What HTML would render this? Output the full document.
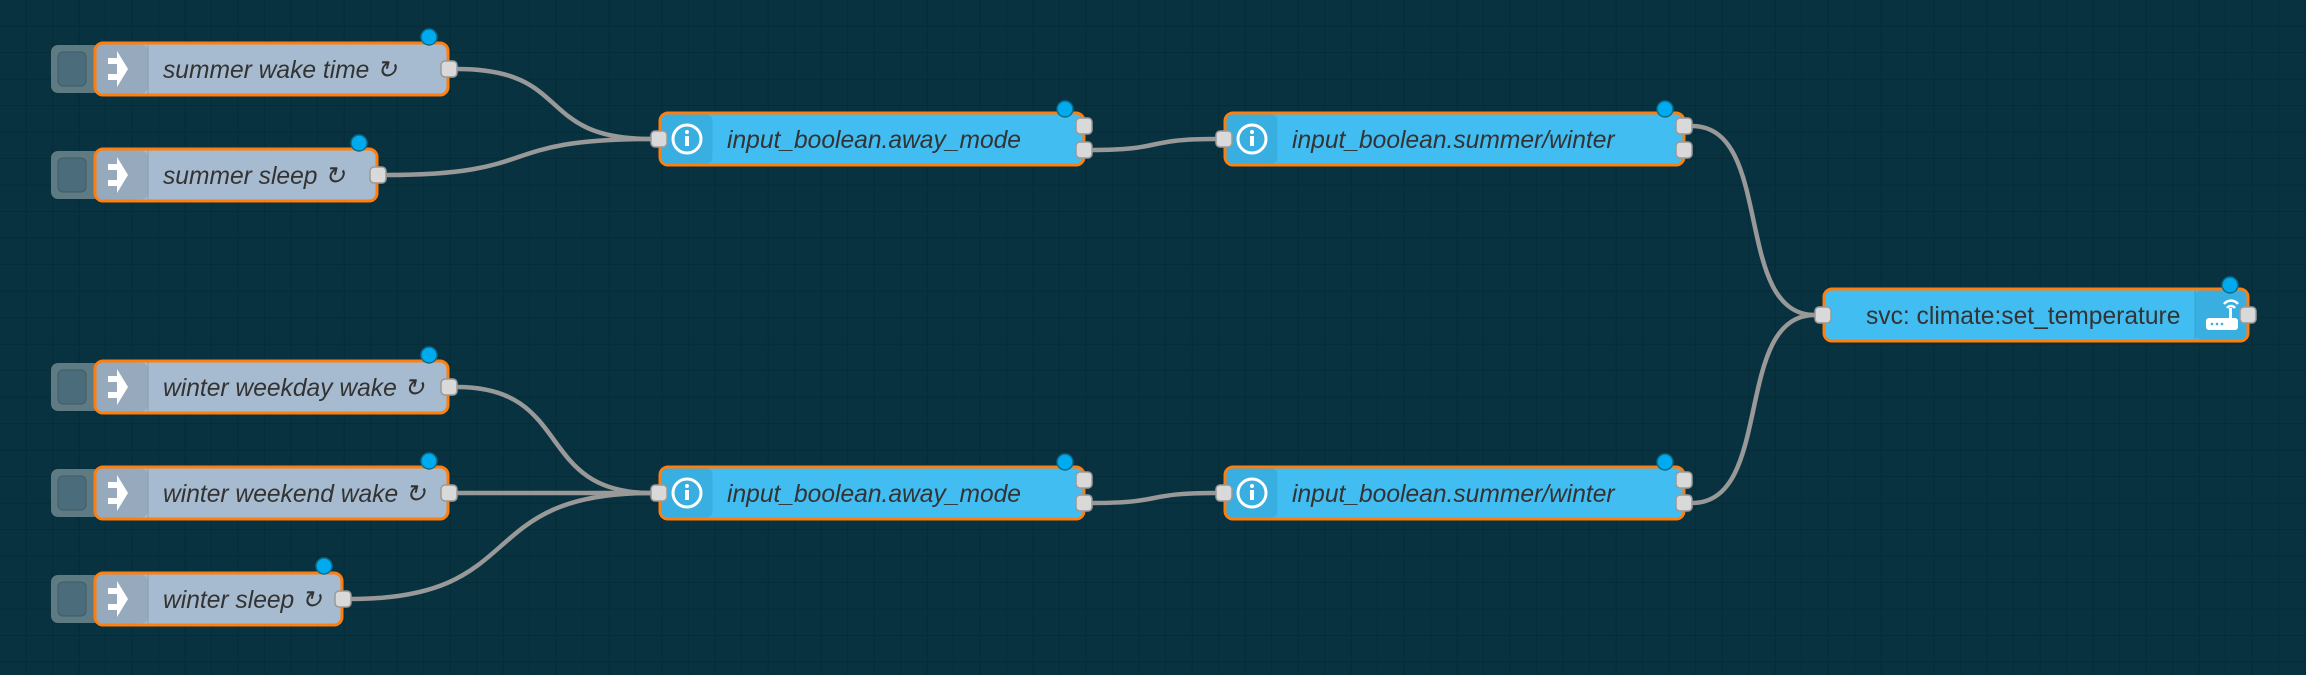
<!DOCTYPE html>
<html><head><meta charset="utf-8"><style>
html,body{margin:0;padding:0;width:2306px;height:675px;overflow:hidden;background:#08323f}
svg{display:block}
text{font-family:"Liberation Sans",sans-serif;font-size:24.6px;fill:#333}
</style></head><body>
<svg width="2306" height="675" xmlns="http://www.w3.org/2000/svg">
<defs>
<pattern id="g" width="26.5" height="26.5" patternUnits="userSpaceOnUse">
<path d="M26.5 0V26.5H0" fill="none" stroke="#052a35" stroke-width="1.5"/>
</pattern>
</defs>
<rect width="2306" height="675" fill="url(#g)"/>

<g fill="none" stroke="#999" stroke-width="4.5">
<path d="M457 69 C574 69 534 139 651 139"/>
<path d="M386 175 C545 175 492 139 651 139"/>
<path d="M457 387 C574 387 534 493 651 493"/>
<path d="M457 493 L651 493"/>
<path d="M351 599 C531 599 471 493 651 493"/>
<path d="M1092 150 C1166 150 1142 139 1216 139"/>
<path d="M1092 503 C1166 503 1142 493 1216 493"/>
<path d="M1692 126 C1775 126 1732 315 1815 315"/>
<path d="M1692 503 C1775 503 1732 315 1815 315"/>
</g>

<g>
<rect x="51" y="45" width="50" height="48" rx="7" fill="#5e7a82"/><rect x="58" y="52" width="28" height="34" rx="5" fill="#4a6c7b" stroke="#3e5c68"/>
<rect x="95" y="43" width="353" height="52" rx="8" fill="#a6bbcf" stroke="#ff7f0e" stroke-width="3"/>
<rect x="96.5" y="44.5" width="51" height="49" rx="6" fill="#97aabd"/><line x1="148" y1="44.5" x2="148" y2="93.5" stroke="#8a9cae"/>
<path d="M108 58h9v-7l11 18-11 18v-7h-9v-6h9v-10h-9z" fill="#fff"/>
<text x="163" y="78" font-style="italic">summer wake time ↻</text>
<rect x="441" y="61" width="16" height="16" rx="4" fill="#d9d9d9" stroke="#999" stroke-width="1.5"/>
<circle cx="429" cy="37" r="8" fill="#00aaee" stroke="#0a6c8c" stroke-width="1.5"/>

<rect x="51" y="151" width="50" height="48" rx="7" fill="#5e7a82"/><rect x="58" y="158" width="28" height="34" rx="5" fill="#4a6c7b" stroke="#3e5c68"/>
<rect x="95" y="149" width="282" height="52" rx="8" fill="#a6bbcf" stroke="#ff7f0e" stroke-width="3"/>
<rect x="96.5" y="150.5" width="51" height="49" rx="6" fill="#97aabd"/><line x1="148" y1="150.5" x2="148" y2="199.5" stroke="#8a9cae"/>
<path d="M108 164h9v-7l11 18-11 18v-7h-9v-6h9v-10h-9z" fill="#fff"/>
<text x="163" y="184" font-style="italic">summer sleep ↻</text>
<rect x="370" y="167" width="16" height="16" rx="4" fill="#d9d9d9" stroke="#999" stroke-width="1.5"/>
<circle cx="359" cy="143" r="8" fill="#00aaee" stroke="#0a6c8c" stroke-width="1.5"/>

<rect x="51" y="363" width="50" height="48" rx="7" fill="#5e7a82"/><rect x="58" y="370" width="28" height="34" rx="5" fill="#4a6c7b" stroke="#3e5c68"/>
<rect x="95" y="361" width="353" height="52" rx="8" fill="#a6bbcf" stroke="#ff7f0e" stroke-width="3"/>
<rect x="96.5" y="362.5" width="51" height="49" rx="6" fill="#97aabd"/><line x1="148" y1="362.5" x2="148" y2="411.5" stroke="#8a9cae"/>
<path d="M108 376h9v-7l11 18-11 18v-7h-9v-6h9v-10h-9z" fill="#fff"/>
<text x="163" y="396" font-style="italic">winter weekday wake ↻</text>
<rect x="441" y="379" width="16" height="16" rx="4" fill="#d9d9d9" stroke="#999" stroke-width="1.5"/>
<circle cx="429" cy="355" r="8" fill="#00aaee" stroke="#0a6c8c" stroke-width="1.5"/>

<rect x="51" y="469" width="50" height="48" rx="7" fill="#5e7a82"/><rect x="58" y="476" width="28" height="34" rx="5" fill="#4a6c7b" stroke="#3e5c68"/>
<rect x="95" y="467" width="353" height="52" rx="8" fill="#a6bbcf" stroke="#ff7f0e" stroke-width="3"/>
<rect x="96.5" y="468.5" width="51" height="49" rx="6" fill="#97aabd"/><line x1="148" y1="468.5" x2="148" y2="517.5" stroke="#8a9cae"/>
<path d="M108 482h9v-7l11 18-11 18v-7h-9v-6h9v-10h-9z" fill="#fff"/>
<text x="163" y="502" font-style="italic">winter weekend wake ↻</text>
<rect x="441" y="485" width="16" height="16" rx="4" fill="#d9d9d9" stroke="#999" stroke-width="1.5"/>
<circle cx="429" cy="461" r="8" fill="#00aaee" stroke="#0a6c8c" stroke-width="1.5"/>

<rect x="51" y="575" width="50" height="48" rx="7" fill="#5e7a82"/><rect x="58" y="582" width="28" height="34" rx="5" fill="#4a6c7b" stroke="#3e5c68"/>
<rect x="95" y="573" width="247" height="52" rx="8" fill="#a6bbcf" stroke="#ff7f0e" stroke-width="3"/>
<rect x="96.5" y="574.5" width="51" height="49" rx="6" fill="#97aabd"/><line x1="148" y1="574.5" x2="148" y2="623.5" stroke="#8a9cae"/>
<path d="M108 588h9v-7l11 18-11 18v-7h-9v-6h9v-10h-9z" fill="#fff"/>
<text x="163" y="608" font-style="italic">winter sleep ↻</text>
<rect x="335" y="591" width="16" height="16" rx="4" fill="#d9d9d9" stroke="#999" stroke-width="1.5"/>
<circle cx="324" cy="566" r="8" fill="#00aaee" stroke="#0a6c8c" stroke-width="1.5"/>
</g>

<g>
<rect x="660" y="113" width="424" height="52" rx="8" fill="#41bdf2" stroke="#ff7f0e" stroke-width="3"/>
<rect x="661.5" y="114.5" width="51" height="49" rx="6" fill="#39aee0"/>
<circle cx="687" cy="139" r="14" fill="none" stroke="#fff" stroke-width="3"/><circle cx="687" cy="132" r="2" fill="#fff"/><rect x="685" y="136" width="4" height="10" fill="#fff"/>
<text x="727" y="148" font-style="italic">input_boolean.away_mode</text>
<rect x="651" y="131" width="16" height="16" rx="4" fill="#d9d9d9" stroke="#999" stroke-width="1.5"/>
<rect x="1076" y="118" width="16" height="16" rx="4" fill="#d9d9d9" stroke="#999" stroke-width="1.5"/>
<rect x="1076" y="142" width="16" height="16" rx="4" fill="#d9d9d9" stroke="#999" stroke-width="1.5"/>
<circle cx="1065" cy="109" r="8" fill="#00aaee" stroke="#0a6c8c" stroke-width="1.5"/>

<rect x="660" y="467" width="424" height="52" rx="8" fill="#41bdf2" stroke="#ff7f0e" stroke-width="3"/>
<rect x="661.5" y="468.5" width="51" height="49" rx="6" fill="#39aee0"/>
<circle cx="687" cy="493" r="14" fill="none" stroke="#fff" stroke-width="3"/><circle cx="687" cy="486" r="2" fill="#fff"/><rect x="685" y="490" width="4" height="10" fill="#fff"/>
<text x="727" y="502" font-style="italic">input_boolean.away_mode</text>
<rect x="651" y="485" width="16" height="16" rx="4" fill="#d9d9d9" stroke="#999" stroke-width="1.5"/>
<rect x="1076" y="472" width="16" height="16" rx="4" fill="#d9d9d9" stroke="#999" stroke-width="1.5"/>
<rect x="1076" y="495" width="16" height="16" rx="4" fill="#d9d9d9" stroke="#999" stroke-width="1.5"/>
<circle cx="1065" cy="462" r="8" fill="#00aaee" stroke="#0a6c8c" stroke-width="1.5"/>

<rect x="1225" y="113" width="459" height="52" rx="8" fill="#41bdf2" stroke="#ff7f0e" stroke-width="3"/>
<rect x="1226.5" y="114.5" width="51" height="49" rx="6" fill="#39aee0"/>
<circle cx="1252" cy="139" r="14" fill="none" stroke="#fff" stroke-width="3"/><circle cx="1252" cy="132" r="2" fill="#fff"/><rect x="1250" y="136" width="4" height="10" fill="#fff"/>
<text x="1292" y="148" font-style="italic">input_boolean.summer/winter</text>
<rect x="1216" y="131" width="16" height="16" rx="4" fill="#d9d9d9" stroke="#999" stroke-width="1.5"/>
<rect x="1676" y="118" width="16" height="16" rx="4" fill="#d9d9d9" stroke="#999" stroke-width="1.5"/>
<rect x="1676" y="142" width="16" height="16" rx="4" fill="#d9d9d9" stroke="#999" stroke-width="1.5"/>
<circle cx="1665" cy="109" r="8" fill="#00aaee" stroke="#0a6c8c" stroke-width="1.5"/>

<rect x="1225" y="467" width="459" height="52" rx="8" fill="#41bdf2" stroke="#ff7f0e" stroke-width="3"/>
<rect x="1226.5" y="468.5" width="51" height="49" rx="6" fill="#39aee0"/>
<circle cx="1252" cy="493" r="14" fill="none" stroke="#fff" stroke-width="3"/><circle cx="1252" cy="486" r="2" fill="#fff"/><rect x="1250" y="490" width="4" height="10" fill="#fff"/>
<text x="1292" y="502" font-style="italic">input_boolean.summer/winter</text>
<rect x="1216" y="485" width="16" height="16" rx="4" fill="#d9d9d9" stroke="#999" stroke-width="1.5"/>
<rect x="1676" y="472" width="16" height="16" rx="4" fill="#d9d9d9" stroke="#999" stroke-width="1.5"/>
<rect x="1676" y="495" width="16" height="16" rx="4" fill="#d9d9d9" stroke="#999" stroke-width="1.5"/>
<circle cx="1665" cy="462" r="8" fill="#00aaee" stroke="#0a6c8c" stroke-width="1.5"/>

<rect x="1824" y="289" width="424" height="52" rx="8" fill="#41bdf2" stroke="#ff7f0e" stroke-width="3"/>
<rect x="2195" y="290.5" width="51.5" height="49" rx="6" fill="#39aee0"/><line x1="2195" y1="290.5" x2="2195" y2="339.5" stroke="#35a3d3"/>
<rect x="2206" y="318" width="32" height="12" rx="3" fill="#fff"/>
<rect x="2229" y="308" width="3" height="10" fill="#fff"/>
<circle cx="2212" cy="324" r="1.3" fill="#39aee0"/><circle cx="2217" cy="324" r="1.3" fill="#39aee0"/><circle cx="2222" cy="324" r="1.3" fill="#39aee0"/>
<path d="M2224 304 a9 9 0 0 1 14 0" fill="none" stroke="#fff" stroke-width="2.5"/>
<path d="M2227 308 a5 5 0 0 1 8 0" fill="none" stroke="#fff" stroke-width="2.5"/>
<text x="1866" y="324">svc: climate:set_temperature</text>
<rect x="1815" y="307" width="16" height="16" rx="4" fill="#d9d9d9" stroke="#999" stroke-width="1.5"/>
<rect x="2240" y="307" width="16" height="16" rx="4" fill="#d9d9d9" stroke="#999" stroke-width="1.5"/>
<circle cx="2230" cy="285" r="8" fill="#00aaee" stroke="#0a6c8c" stroke-width="1.5"/>
</g>
</svg>
</body></html>
